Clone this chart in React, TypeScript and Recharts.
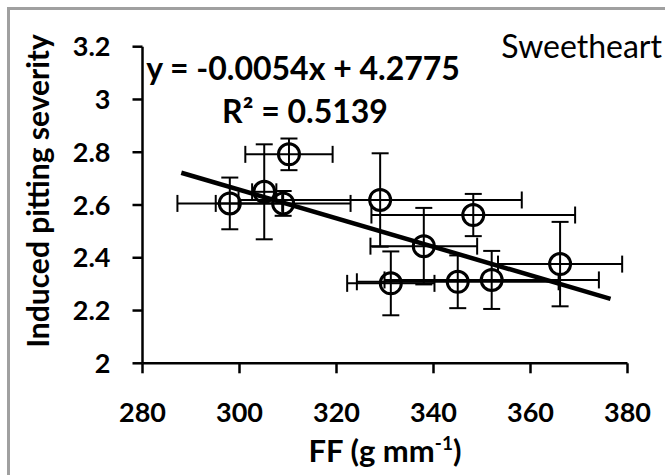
import { ScatterChart, Scatter, XAxis, YAxis, ErrorBar, ReferenceLine } from 'recharts';

// FF (g mm-1) per sample, with error (±)
const ffValues = [298.0, 305.1, 309.0, 310.2, 329.0, 348.2, 338.0, 331.2, 345.0, 352.0, 366.1];
const ffErr = [10.8, 2.5, 13.9, 9.0, 29.2, 21.0, 11.0, 9.0, 20.8, 22.1, 12.8];
// induced pitting severity, with error (±)
const severity = [2.606, 2.65, 2.606, 2.792, 2.619, 2.562, 2.444, 2.303, 2.309, 2.316, 2.376];
const severityErr = [0.098, 0.18, 0.047, 0.06, 0.177, 0.08, 0.145, 0.121, 0.1, 0.11, 0.16];

const xTicks = [280, 300, 320, 340, 360, 380];
const yTicks = [2, 2.2, 2.4, 2.6, 2.8, 3, 3.2];

// linear trend line: y = -0.0054x + 4.2775
const slope = -0.0054;
const intercept = 4.2775;
const trendRange = [288, 376.5];

const points = ffValues.map((ff, i) => ({
  ff,
  sev: severity[i],
  ffErr: ffErr[i],
  sevErr: severityErr[i],
}));

const W = 665;
const H = 475;
const FONT = 'Lato, "Open Sans", sans-serif';

const tickStyle = { fill: '#000', fontSize: 27, fontWeight: 700, fontFamily: FONT };

const Ring = (props: any) => {
  const { cx, cy } = props;
  if (cx == null || cy == null) return null;
  return <circle cx={cx} cy={cy} r={10.5} fill='none' stroke='#000' strokeWidth={3} />;
};

export default function App() {
  return (
    <div
      style={{
        position: 'absolute',
        left: 0,
        top: 0,
        width: W,
        height: H,
        background: '#fff',
        overflow: 'hidden',
      }}
    >
      <div
        style={{
          position: 'absolute',
          left: 7,
          top: 7,
          width: W + 40,
          height: H + 40,
          border: '3px solid #a0a0a0',
        }}
      />
      <div style={{ position: 'absolute', left: 0, top: 0 }}>
        <ScatterChart width={W} height={H} margin={{ top: 46.7, right: 37.5, left: 82.5, bottom: 51.7 }}>
          <XAxis
            type='number'
            dataKey='ff'
            domain={[280, 380]}
            ticks={xTicks}
            height={60}
            tickSize={10}
            tickMargin={30}
            tick={tickStyle}
            axisLine={{ stroke: '#000', strokeWidth: 2.5 }}
            tickLine={{ stroke: '#000', strokeWidth: 2.5 }}
            allowDataOverflow
          />
          <YAxis
            type='number'
            dataKey='sev'
            domain={[2, 3.2]}
            ticks={yTicks}
            width={60}
            tickSize={10}
            tickMargin={22}
            tick={tickStyle}
            axisLine={{ stroke: '#000', strokeWidth: 2.5 }}
            tickLine={{ stroke: '#000', strokeWidth: 2.5 }}
            allowDataOverflow
          />
          <Scatter data={points} shape={<Ring />} isAnimationActive={false}>
            <ErrorBar dataKey='ffErr' direction='x' width={8.5} stroke='#000' strokeWidth={2} isAnimationActive={false} />
            <ErrorBar dataKey='sevErr' direction='y' width={8.5} stroke='#000' strokeWidth={2} isAnimationActive={false} />
          </Scatter>
          <ReferenceLine
            segment={trendRange.map((x) => ({ x, y: slope * x + intercept }))}
            stroke='#000'
            strokeWidth={4.5}
          />
        </ScatterChart>
      </div>
      <svg
        width={W}
        height={H}
        style={{ position: 'absolute', left: 0, top: 0, pointerEvents: 'none' }}
        fontFamily={FONT}
      >
        <text x={662} y={58} fontSize={32} fill='#000' textAnchor='end'>
          Sweetheart
        </text>
        <text x={303} y={80} fontSize={32} fontWeight={700} textAnchor='middle' fill='#000'>
          y = -0.0054x + 4.2775
        </text>
        <text x={305} y={123} fontSize={32} fontWeight={700} textAnchor='middle' fill='#000'>
          R² = 0.5139
        </text>
        <text transform='translate(49,191) rotate(-90)' fontSize={30} fontWeight={700} textAnchor='middle' fill='#000'>
          Induced pitting severity
        </text>
        <text x={385} y={462} fontSize={31} fontWeight={700} textAnchor='middle' fill='#000'>
          FF (g mm
          <tspan dy={-12} fontSize={19}>
            -1
          </tspan>
          <tspan dy={12}>)</tspan>
        </text>
      </svg>
    </div>
  );
}
